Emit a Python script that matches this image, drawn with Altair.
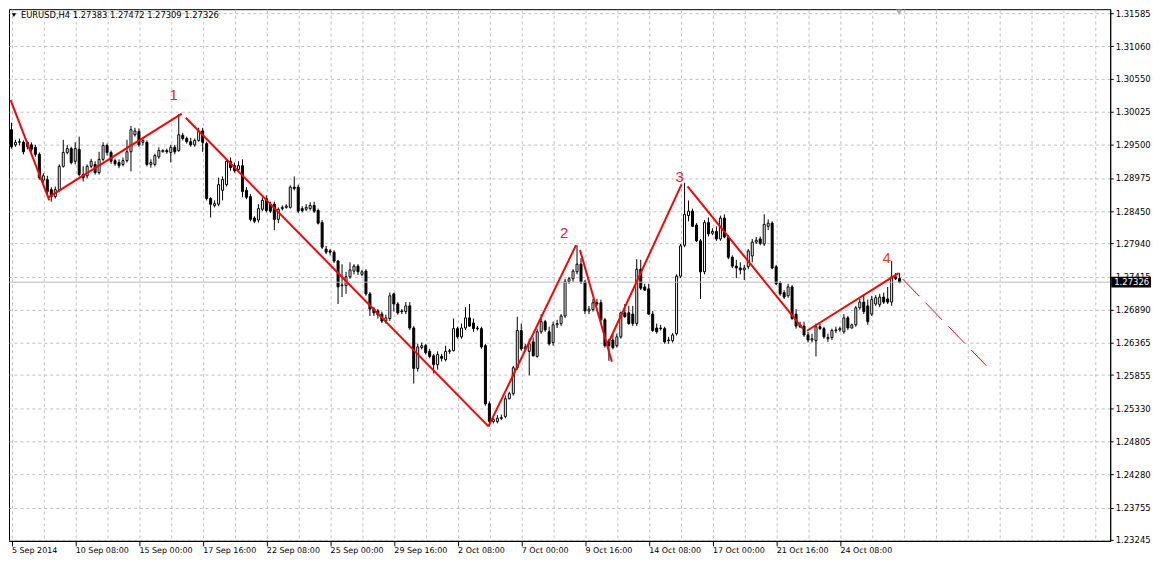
import altair as alt
import pandas as pd

# ---- H4 candles (EURUSD) ----
opens = [
    1.2974, 1.2950, 1.2954, 1.2954, 1.2947, 1.2950, 1.2946, 1.2935, 1.2894, 1.2895,
    1.2879, 1.2868, 1.2879, 1.2916, 1.2938, 1.2944, 1.2924, 1.2943, 1.2903, 1.2901,
    1.2916, 1.2919, 1.2906, 1.2927, 1.2949, 1.2938, 1.2925, 1.2922, 1.2919, 1.2925,
    1.2939, 1.2966, 1.2971, 1.2954, 1.2954, 1.2919, 1.2919, 1.2931, 1.2939, 1.2941,
    1.2938, 1.2946, 1.2941, 1.2965, 1.2960, 1.2955, 1.2950, 1.2957, 1.2972, 1.2952,
    1.2865, 1.2854, 1.2856, 1.2878, 1.2887, 1.2924, 1.2917, 1.2911, 1.2917, 1.2878,
    1.2868, 1.2834, 1.2831, 1.2848, 1.2865, 1.2856, 1.2856, 1.2832, 1.2849, 1.2851,
    1.2851, 1.2883, 1.2883, 1.2849, 1.2848, 1.2849, 1.2854, 1.2846, 1.2827, 1.2785,
    1.2782, 1.2780, 1.2766, 1.2727, 1.2727, 1.2741, 1.2750, 1.2758, 1.2745, 1.2750,
    1.2714, 1.2690, 1.2687, 1.2682, 1.2671, 1.2675, 1.2714, 1.2698, 1.2687, 1.2686,
    1.2695, 1.2660, 1.2596, 1.2629, 1.2632, 1.2623, 1.2616, 1.2602, 1.2615, 1.2610,
    1.2623, 1.2624, 1.2659, 1.2646, 1.2660, 1.2676, 1.2668, 1.2659, 1.2659, 1.2632,
    1.2540, 1.2512, 1.2512, 1.2518, 1.2520, 1.2548, 1.2556, 1.2597, 1.2656, 1.2627,
    1.2623, 1.2638, 1.2615, 1.2654, 1.2670, 1.2654, 1.2637, 1.2665, 1.2667, 1.2679,
    1.2734, 1.2738, 1.2749, 1.2761, 1.2733, 1.2687, 1.2689, 1.2700, 1.2700, 1.2673,
    1.2640, 1.2641, 1.2632, 1.2646, 1.2684, 1.2684, 1.2682, 1.2667, 1.2753, 1.2725,
    1.2722, 1.2682, 1.2660, 1.2660, 1.2659, 1.2640, 1.2640, 1.2651, 1.2742, 1.2791,
    1.2838, 1.2845, 1.2823, 1.2798, 1.2749, 1.2827, 1.2810, 1.2813, 1.2801, 1.2834,
    1.2804, 1.2772, 1.2758, 1.2755, 1.2752, 1.2757, 1.2774, 1.2796, 1.2801, 1.2793,
    1.2821, 1.2826, 1.2757, 1.2731, 1.2716, 1.2711, 1.2725, 1.2682, 1.2665, 1.2663,
    1.2649, 1.2641, 1.2640, 1.2662, 1.2659, 1.2643, 1.2645, 1.2656, 1.2657, 1.2654,
    1.2676, 1.2660, 1.2665, 1.2692, 1.2701, 1.2695, 1.2682, 1.2698, 1.2697, 1.2709,
    1.2706, 1.2701, 1.2741, 1.27383,
]
highs = [
    1.2985, 1.2958, 1.2960, 1.2957, 1.2955, 1.2954, 1.2950, 1.2938, 1.2905, 1.2901,
    1.2883, 1.2884, 1.2919, 1.2958, 1.2950, 1.2947, 1.2954, 1.2963, 1.2916, 1.2919,
    1.2928, 1.2924, 1.2939, 1.2954, 1.2952, 1.2941, 1.2928, 1.2927, 1.2930, 1.2958,
    1.2980, 1.2977, 1.2976, 1.2961, 1.2957, 1.2927, 1.2936, 1.2946, 1.2943, 1.2944,
    1.2950, 1.2950, 1.2999, 1.2969, 1.2963, 1.2961, 1.2960, 1.2977, 1.2977, 1.2955,
    1.2867, 1.2862, 1.2898, 1.2900, 1.2927, 1.2930, 1.2922, 1.2924, 1.2927, 1.2883,
    1.2872, 1.2837, 1.2856, 1.2867, 1.2870, 1.2860, 1.2860, 1.2851, 1.2854, 1.2856,
    1.2886, 1.2900, 1.2887, 1.2853, 1.2856, 1.2859, 1.2860, 1.2849, 1.2831, 1.2790,
    1.2785, 1.2783, 1.2768, 1.2761, 1.2749, 1.2764, 1.2761, 1.2761, 1.2752, 1.2753,
    1.2717, 1.2693, 1.2690, 1.2686, 1.2681, 1.2716, 1.2716, 1.2701, 1.2690, 1.2701,
    1.2701, 1.2663, 1.2635, 1.2637, 1.2635, 1.2627, 1.2619, 1.2623, 1.2619, 1.2632,
    1.2627, 1.2675, 1.2662, 1.2667, 1.2693, 1.2698, 1.2675, 1.2663, 1.2662, 1.2635,
    1.2544, 1.2518, 1.2522, 1.2523, 1.2553, 1.2559, 1.2600, 1.2678, 1.2667, 1.2635,
    1.2643, 1.2645, 1.2659, 1.2682, 1.2673, 1.2662, 1.2670, 1.2673, 1.2682, 1.2738,
    1.2741, 1.2753, 1.2791, 1.2771, 1.2736, 1.2695, 1.2706, 1.2706, 1.2705, 1.2676,
    1.2643, 1.2651, 1.2651, 1.2686, 1.2698, 1.2695, 1.2695, 1.2769, 1.2768, 1.2730,
    1.2730, 1.2687, 1.2667, 1.2665, 1.2662, 1.2646, 1.2652, 1.2745, 1.2793, 1.2890,
    1.2862, 1.2849, 1.2826, 1.2801, 1.2831, 1.2835, 1.2818, 1.2821, 1.2838, 1.2840,
    1.2807, 1.2775, 1.2768, 1.2764, 1.2760, 1.2785, 1.2801, 1.2804, 1.2805, 1.2840,
    1.2832, 1.2829, 1.2760, 1.2734, 1.2720, 1.2730, 1.2728, 1.2690, 1.2670, 1.2670,
    1.2654, 1.2651, 1.2667, 1.2667, 1.2662, 1.2651, 1.2659, 1.2662, 1.2662, 1.2682,
    1.2679, 1.2667, 1.2695, 1.2706, 1.2711, 1.2705, 1.2711, 1.2712, 1.2714, 1.2716,
    1.2725, 1.2766, 1.2747, 1.27472,
]
lows = [
    1.2944, 1.2947, 1.2949, 1.2935, 1.2943, 1.2939, 1.2931, 1.2895, 1.2890, 1.2872,
    1.2860, 1.2865, 1.2876, 1.2914, 1.2935, 1.2919, 1.2919, 1.2900, 1.2892, 1.2897,
    1.2913, 1.2903, 1.2903, 1.2924, 1.2933, 1.2920, 1.2917, 1.2913, 1.2916, 1.2922,
    1.2908, 1.2963, 1.2947, 1.2949, 1.2916, 1.2914, 1.2916, 1.2928, 1.2938, 1.2936,
    1.2922, 1.2935, 1.2939, 1.2957, 1.2952, 1.2947, 1.2947, 1.2955, 1.2939, 1.2862,
    1.2835, 1.2851, 1.2853, 1.2862, 1.2884, 1.2909, 1.2906, 1.2908, 1.2867, 1.2864,
    1.2829, 1.2826, 1.2827, 1.2845, 1.2843, 1.2842, 1.2815, 1.2826, 1.2846, 1.2849,
    1.2849, 1.2878, 1.2842, 1.2843, 1.2845, 1.2846, 1.2842, 1.2824, 1.2785, 1.2777,
    1.2775, 1.2763, 1.2698, 1.2709, 1.2714, 1.2738, 1.2745, 1.2744, 1.2742, 1.2711,
    1.2679, 1.2679, 1.2675, 1.2668, 1.2667, 1.2671, 1.2686, 1.2681, 1.2682, 1.2682,
    1.2657, 1.2572, 1.2591, 1.2626, 1.2618, 1.2612, 1.2588, 1.2594, 1.2607, 1.2607,
    1.2619, 1.2623, 1.2643, 1.2643, 1.2657, 1.2662, 1.2654, 1.2656, 1.2627, 1.2537,
    1.2504, 1.2509, 1.2509, 1.2514, 1.2517, 1.2547, 1.2553, 1.2594, 1.2624, 1.2623,
    1.2585, 1.2615, 1.2613, 1.2651, 1.2654, 1.2632, 1.2632, 1.2660, 1.2663, 1.2676,
    1.2730, 1.2733, 1.2745, 1.2730, 1.2682, 1.2682, 1.2686, 1.2695, 1.2670, 1.2629,
    1.2608, 1.2626, 1.2629, 1.2643, 1.2676, 1.2665, 1.2663, 1.2663, 1.2720, 1.2719,
    1.2681, 1.2654, 1.2651, 1.2656, 1.2635, 1.2635, 1.2637, 1.2648, 1.2739, 1.2788,
    1.2829, 1.2820, 1.2796, 1.2706, 1.2745, 1.2805, 1.2807, 1.2798, 1.2798, 1.2802,
    1.2769, 1.2755, 1.2739, 1.2745, 1.2736, 1.2753, 1.2764, 1.2793, 1.2791, 1.2790,
    1.2815, 1.2753, 1.2728, 1.2711, 1.2706, 1.2708, 1.2673, 1.2659, 1.2660, 1.2646,
    1.2637, 1.2637, 1.2615, 1.2657, 1.2643, 1.2638, 1.2641, 1.2652, 1.2654, 1.2651,
    1.2657, 1.2659, 1.2662, 1.2689, 1.2682, 1.2665, 1.2679, 1.2695, 1.2693, 1.2698,
    1.2698, 1.2695, 1.2736, 1.27309,
]
closes = [
    1.2947, 1.2954, 1.2955, 1.2939, 1.2954, 1.2943, 1.2935, 1.2898, 1.2901, 1.2876,
    1.2868, 1.2879, 1.2916, 1.2938, 1.2944, 1.2922, 1.2944, 1.2903, 1.2898, 1.2916,
    1.2924, 1.2906, 1.2927, 1.2949, 1.2938, 1.2924, 1.2920, 1.2917, 1.2925, 1.2939,
    1.2974, 1.2972, 1.2950, 1.2957, 1.2919, 1.2922, 1.2933, 1.2941, 1.2941, 1.2939,
    1.2946, 1.2939, 1.2966, 1.2960, 1.2955, 1.2950, 1.2957, 1.2971, 1.2954, 1.2865,
    1.2856, 1.2857, 1.2887, 1.2895, 1.2924, 1.2914, 1.2909, 1.2917, 1.2876, 1.2867,
    1.2832, 1.2829, 1.2849, 1.2862, 1.2846, 1.2845, 1.2832, 1.2848, 1.2851, 1.2853,
    1.2883, 1.2881, 1.2845, 1.2846, 1.2851, 1.2854, 1.2845, 1.2826, 1.2788, 1.2780,
    1.2780, 1.2766, 1.2725, 1.2728, 1.2741, 1.2752, 1.2758, 1.2749, 1.2749, 1.2714,
    1.2690, 1.2684, 1.2681, 1.2671, 1.2676, 1.2711, 1.2698, 1.2684, 1.2686, 1.2695,
    1.2660, 1.2596, 1.2630, 1.2632, 1.2621, 1.2615, 1.2602, 1.2618, 1.2612, 1.2623,
    1.2624, 1.2659, 1.2646, 1.2660, 1.2676, 1.2663, 1.2659, 1.2660, 1.2630, 1.2540,
    1.2512, 1.2515, 1.2517, 1.2517, 1.2548, 1.2556, 1.2597, 1.2656, 1.2627, 1.2630,
    1.2635, 1.2616, 1.2654, 1.2670, 1.2657, 1.2635, 1.2665, 1.2667, 1.2679, 1.2734,
    1.2738, 1.2750, 1.2761, 1.2733, 1.2687, 1.2690, 1.2700, 1.2698, 1.2673, 1.2632,
    1.2632, 1.2629, 1.2646, 1.2684, 1.2678, 1.2667, 1.2667, 1.2753, 1.2723, 1.2720,
    1.2682, 1.2656, 1.2654, 1.2659, 1.2638, 1.2641, 1.2649, 1.2742, 1.2790, 1.2840,
    1.2845, 1.2821, 1.2798, 1.2749, 1.2827, 1.2809, 1.2813, 1.2801, 1.2834, 1.2804,
    1.2772, 1.2758, 1.2755, 1.2752, 1.2755, 1.2782, 1.2796, 1.2799, 1.2794, 1.2824,
    1.2826, 1.2755, 1.2730, 1.2714, 1.2709, 1.2725, 1.2675, 1.2663, 1.2662, 1.2649,
    1.2641, 1.2643, 1.2662, 1.2659, 1.2646, 1.2645, 1.2656, 1.2657, 1.2659, 1.2676,
    1.2660, 1.2665, 1.2692, 1.2701, 1.2686, 1.2670, 1.2705, 1.2708, 1.2709, 1.2701,
    1.2701, 1.2741, 1.2738, 1.27326,
]

x_tick_labels = ["5 Sep 2014", "10 Sep 08:00", "15 Sep 00:00", "17 Sep 16:00",
                 "22 Sep 08:00", "25 Sep 00:00", "29 Sep 16:00", "2 Oct 08:00",
                 "7 Oct 00:00", "9 Oct 16:00", "14 Oct 08:00", "17 Oct 00:00",
                 "21 Oct 16:00", "24 Oct 08:00"]
y_tick_values = [1.31585, 1.31060, 1.30550, 1.30025, 1.29500, 1.28975, 1.28450,
                 1.27940, 1.27415, 1.26890, 1.26365, 1.25855, 1.25330, 1.24805,
                 1.24280, 1.23755, 1.23245]

# ZigZag segments (bar index, price)
zz_segment = [1, 1, 2, 2, 3, 3, 4, 4, 5, 5, 6, 6, 7, 7, 8, 8]
zz_bar = [-0.25, 9.5, 9.25, 42.75, 43.75, 119.75, 119.75, 141.75,
          142.75, 150.75, 150.0, 168.25, 169.75, 198.75, 199.75, 222.75]
zz_price = [1.30213, 1.28621, 1.28668, 1.29993, 1.29930, 1.25042, 1.25042, 1.27912,
            1.27833, 1.26067, 1.26382, 1.28873, 1.28842, 1.26587, 1.26556, 1.27470]
proj_bar = [223.75, 244.75]
proj_price = [1.27376, 1.26004]

wave_text = ["1", "2", "3", "4"]
wave_bar = [40.75, 138.75, 167.75, 219.75]
wave_price = [1.30292, 1.28101, 1.28984, 1.27707]
wave_color = ["#e8203c", "#e8203c", "#e8203c", "#f0401c"]

header_text = "EURUSD,H4  1.27383 1.27472 1.27309 1.27326"

# ---- layout: 4 px per bar, plot area 1106 x 534 ----
W, H = 1106, 534
FONT = "DejaVu Sans"

candles = pd.DataFrame({"bar": list(range(len(opens))), "open": opens,
                        "high": highs, "low": lows, "close": closes})

xs = alt.Scale(domain=[-0.625, -0.625 + W / 4], nice=False, zero=False, padding=0)
ys = alt.Scale(domain=[1.232292, 1.316481], nice=False, zero=False, padding=0)

lab_arr = "[" + ",".join("'%s'" % s for s in x_tick_labels) + "]"
last_lab = 16 * (len(x_tick_labels) - 1)
show = f"datum.value % 16 === 0 && datum.value <= {last_lab}"

xaxis = alt.Axis(values=list(range(0, 276, 8)), tickCount=500,
                 labelExpr=f"({show}) ? {lab_arr}[datum.value / 16] : ''",
                 grid=True, gridColor="#c0c0c0", gridDash=[3, 3], gridWidth=1,
                 tickColor="black", tickSize=5,
                 tickOpacity={"condition": {"test": show, "value": 1}, "value": 0},
                 domainColor="black", labelAlign="left", labelFont=FONT,
                 labelFontSize=8, labelColor="black", labelPadding=1,
                 labelOverlap=False, labelFlush=False, labelBound=False, title=None)
yaxis = alt.Axis(orient="right", values=y_tick_values, tickCount=500, format=".5f",
                 grid=True, gridColor="#c0c0c0", gridDash=[3, 3], gridWidth=1,
                 tickColor="black", tickSize=3, domainColor="black",
                 labelFont=FONT, labelFontSize=8.5, labelColor="black",
                 labelPadding=2, labelOverlap=False, labelFlush=False, title=None)

base = alt.Chart(candles)
wicks = base.mark_rule(color="black", strokeWidth=1).encode(
    x=alt.X("bar:Q", scale=xs, axis=xaxis),
    y=alt.Y("low:Q", scale=ys, axis=yaxis),
    y2="high:Q",
)
bodies = base.mark_bar(size=2, stroke="black", strokeWidth=1).encode(
    x=alt.X("bar:Q", scale=xs),
    y=alt.Y("open:Q", scale=ys),
    y2="close:Q",
    fill=alt.condition("datum.close >= datum.open", alt.value("white"), alt.value("black")),
)

last = pd.DataFrame({"price": [closes[-1]], "label": ["%.5f" % closes[-1]]})
price_line = alt.Chart(last).mark_rule(color="#b8b8b8", strokeWidth=1).encode(
    y=alt.Y("price:Q", scale=ys))

zz = pd.DataFrame({"seg": zz_segment, "bar": zz_bar, "price": zz_price})
zigzag = alt.Chart(zz).mark_line(color="#ff0000", strokeWidth=2, clip=True).encode(
    x=alt.X("bar:Q", scale=xs), y=alt.Y("price:Q", scale=ys), detail="seg:N")

pj = pd.DataFrame({"bar": proj_bar, "price": proj_price})
projection = alt.Chart(pj).mark_line(color="#ff0000", strokeWidth=1,
                                     strokeDash=[24, 9]).encode(
    x=alt.X("bar:Q", scale=xs), y=alt.Y("price:Q", scale=ys))

wv = pd.DataFrame({"t": wave_text, "bar": wave_bar, "price": wave_price, "c": wave_color})
waves = alt.Chart(wv).mark_text(font="Liberation Sans", fontSize=15,
                                align="center", baseline="middle").encode(
    x=alt.X("bar:Q", scale=xs), y=alt.Y("price:Q", scale=ys), text="t:N",
    color=alt.Color("c:N", scale=None))

tag_bg = alt.Chart(last).mark_rule(color="black", strokeWidth=11).encode(
    y=alt.Y("price:Q", scale=ys), x=alt.value(W + 1), x2=alt.value(W + 41))
tag_txt = alt.Chart(last).mark_text(align="left", baseline="middle", color="white",
                                    font=FONT, fontSize=8.5).encode(
    y=alt.Y("price:Q", scale=ys), x=alt.value(W + 4), text="label:N")

hdr = pd.DataFrame({"t": [header_text]})
header = alt.Chart(hdr).mark_text(align="left", baseline="middle", font=FONT,
                                  fontSize=8.4, color="black").encode(
    x=alt.value(12), y=alt.value(6), text="t:N")
arrow = alt.Chart(hdr).mark_point(shape="triangle-down", filled=True, color="black",
                                  size=18, opacity=1).encode(
    x=alt.value(5), y=alt.value(6))
shift_mark = alt.Chart(hdr).mark_point(shape="triangle-down", filled=True,
                                       color="#b0b0b0", size=40, opacity=1).encode(
    x=alt.value(894), y=alt.value(3))

chart = alt.layer(
    wicks, bodies, price_line, zigzag, projection, waves, tag_bg, tag_txt,
    header, arrow, shift_mark,
).properties(width=W, height=H, padding=0, background="white").configure_view(
    stroke="black", strokeWidth=1)

chart.save("out.html", embed_options={"renderer": "svg", "actions": False})
